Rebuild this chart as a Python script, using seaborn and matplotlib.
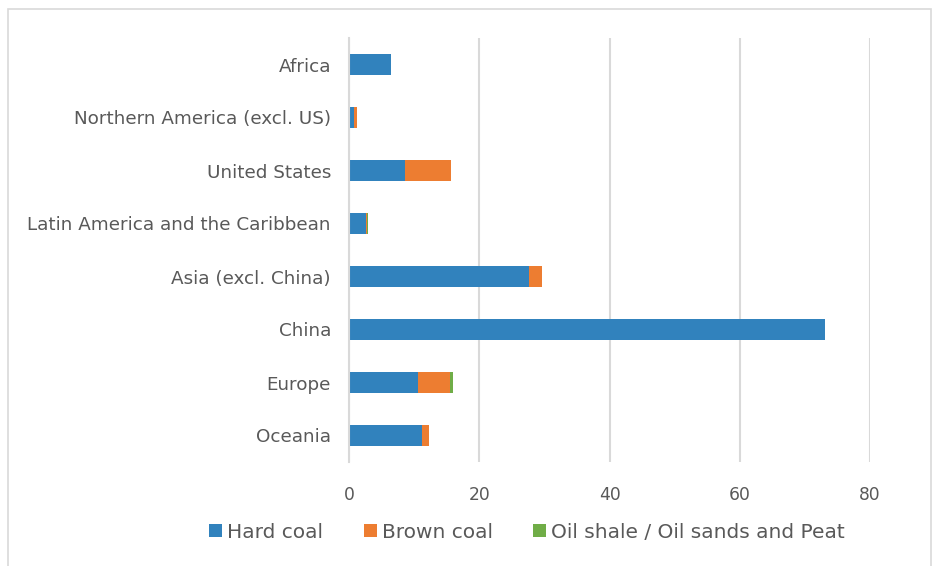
import numpy as np
import pandas as pd
import matplotlib
matplotlib.use('Agg')
import matplotlib.pyplot as plt
import seaborn as sns
from matplotlib.patches import Patch, Rectangle

# Regions, top to bottom
regions = ['Africa', 'Northern America (excl. US)', 'United States',
           'Latin America and the Caribbean', 'Asia (excl. China)', 'China',
           'Europe', 'Oceania']

# Values
hard_coal = [6.4, 0.7, 8.6, 2.6, 27.6, 73.1, 10.6, 11.2]
brown_coal = [0.0, 0.6, 7.0, 0.2, 2.0, 0.0, 4.9, 1.1]
oil_shale_peat = [0.0, 0.0, 0.0, 0.05, 0.1, 0.0, 0.4, 0.0]

series_names = ['Hard coal', 'Brown coal', 'Oil shale / Oil sands and Peat']
colors = ['#3182BD', '#ED7D31', '#70AD47']
xticks = [0, 20, 40, 60, 80]

df = pd.DataFrame({'Region': regions, 'hard': hard_coal,
                   'brown': brown_coal, 'oil': oil_shale_peat})
df['cum_brown'] = df['hard'] + df['brown']
df['cum_oil'] = df['cum_brown'] + df['oil']

sns.set_style('white')
plt.rcParams['font.family'] = ['DejaVu Sans']
text_color = '#595959'

fig = plt.figure(figsize=(9.32, 5.66), dpi=100)
ax = fig.add_axes([349 / 932, 1 - 462 / 566, (870 - 349) / 932, (462 - 38) / 566])

# Stacked bars drawn back to front as cumulative totals
for col, c in zip(['cum_oil', 'cum_brown', 'hard'], colors[::-1]):
    sns.barplot(data=df, x=col, y='Region', order=regions, color=c,
                width=0.4, orient='h', ax=ax, saturation=1, linewidth=0)

ax.set_xlim(0, 80)
ax.set_ylim(7.5, -0.5)
ax.set_xticks(xticks)
ax.set_xticklabels([str(t) for t in xticks])
ax.set_xlabel('')
ax.set_ylabel('')
ax.xaxis.grid(True, color='#D9D9D9', linewidth=1.5)
ax.set_axisbelow(True)
for s in ['top', 'right', 'bottom']:
    ax.spines[s].set_visible(False)
ax.spines['left'].set_color('#D9D9D9')
ax.spines['left'].set_linewidth(1.5)
ax.tick_params(axis='y', length=0, labelsize=13.2, colors=text_color, pad=13)
ax.tick_params(axis='x', length=0, labelsize=12.3, colors=text_color, pad=17)

handles = [Patch(facecolor=c, edgecolor='none') for c in colors]
fig.legend(handles, series_names, loc='center', bbox_to_anchor=(527 / 932, 1 - 532 / 566),
           ncol=3, frameon=False, fontsize=14.5, labelcolor=text_color,
           handlelength=0.65, handleheight=0.65, handletextpad=0.25, columnspacing=2.0)

# Chart area border
fig.patches.append(Rectangle((8 / 932, -0.01), (931 - 8) / 932, 1 - 9 / 566 + 0.01,
                             transform=fig.transFigure, fill=False,
                             edgecolor='#D9D9D9', linewidth=1.2))

fig.savefig('out.png', dpi=100)
